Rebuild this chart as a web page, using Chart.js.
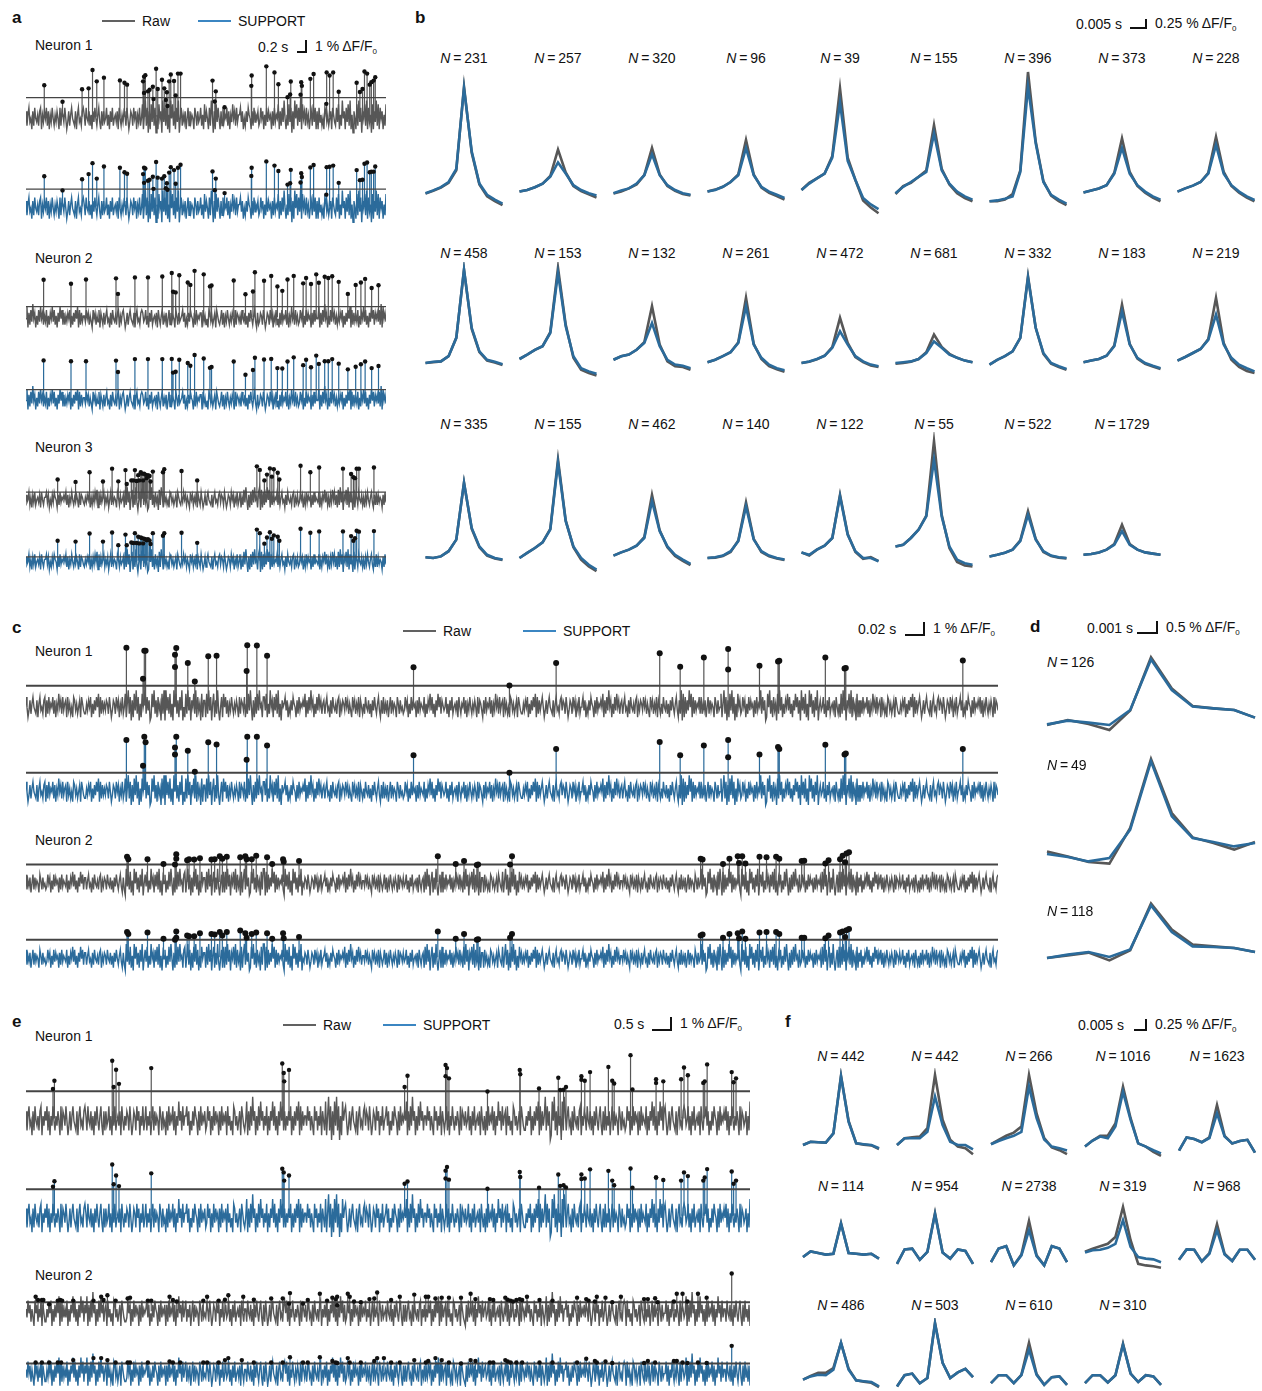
<!DOCTYPE html>
<html>
<head>
<meta charset="utf-8">
<script src="https://cdn.jsdelivr.net/npm/chart.js@4.4.1/dist/chart.umd.min.js"></script>
<style>
  body { margin: 0; background: #fff; }
  #fig { position: relative; width: 1262px; height: 1391px; overflow: hidden;
         font-family: "Liberation Sans", Arial, sans-serif; color: #111; }
  #fig canvas { position: absolute; }
  .t { position: absolute; white-space: nowrap; font-size: 14px; line-height: 16px; transform: translateY(-50%); }
  .t.c { transform: translate(-50%, -50%); }
  .pl { font-weight: bold; font-size: 17px; }
  .t sub { font-size: 8px; vertical-align: -3px; line-height: 0; }
  .leg { position: absolute; height: 2px; }
  .bar { position: absolute; border-right: 2px solid #111; border-bottom: 2px solid #111; box-sizing: border-box; }
</style>
</head>
<body>
<div id="fig"></div>
<script>
// ---- spike traces: frame of each detected spike and its peak (% dF/F0) ----
const aLen = 1104, cLen = 1520, eLen = 1503;

const aN1Frames = [56,112,172,192,204,217,239,288,302,310,359,362,366,362,374,379,389,391,399,404,417,424,429,434,432,439,444,454,459,466,474,572,582,579,609,692,691,737,762,774,812,802,810,844,846,842,872,882,922,921,931,942,959,1014,1024,1032,1038,1046,1054,1059,1066,1071];
const aN1Raw = [2.64,1.26,2.31,2.38,3.92,2.97,3.28,3.05,2.85,2.69,2.97,3.36,3.49,2.0,2.13,2.26,2.51,1.49,4.03,2.33,3.1,2.38,1.41,0.9,2.05,2.97,3.54,3.0,1.79,3.62,3.62,3.03,2.13,1.28,0.79,3.46,2.59,4.23,3.72,2.72,2.95,1.64,1.87,2.9,2.59,1.85,3.18,3.59,3.72,1.08,3.46,3.72,2.1,2.85,2.08,2.33,3.79,3.62,2.69,2.9,3.03,3.31];
const aN1Sup = [2.56,1.36,2.31,2.74,3.67,2.36,3.38,3.28,2.9,2.77,2.74,3.28,3.21,2.0,2.18,2.26,2.51,1.49,3.77,2.44,2.36,2.56,1.54,1.41,1.97,2.87,3.33,3.08,1.92,3.28,3.54,2.97,2.36,1.38,1.13,3.28,2.59,3.82,3.46,3.0,3.1,1.85,1.97,2.82,2.49,2.03,3.31,3.51,3.33,1.0,3.36,3.46,2.0,3.08,2.23,2.26,3.62,3.72,2.9,2.95,2.95,3.38];

const aN2Frames = [54,138,184,276,282,334,374,418,447,451,459,470,496,504,517,545,564,569,637,673,696,702,730,752,771,786,802,821,850,859,874,890,898,916,927,939,959,987,1011,1027,1040,1060,1081];
const aN2Raw = [3.21,2.87,3.23,3.33,2.0,3.41,3.41,3.49,3.79,2.18,2.13,3.59,2.97,2.77,3.97,3.67,2.64,2.72,3.15,1.97,2.21,3.85,3.13,3.54,2.64,2.26,3.23,3.54,2.9,3.36,2.85,3.67,2.95,3.46,3.36,3.51,3.03,2.0,2.77,2.97,3.28,2.51,2.74];
const aN2Sup = [3.33,3.26,3.26,3.31,2.33,3.44,3.44,3.44,3.46,2.28,2.36,3.38,3.1,2.87,3.79,3.49,2.69,2.77,3.23,2.1,2.51,3.56,3.41,3.46,2.67,2.64,3.23,3.59,2.92,3.38,2.74,3.74,3.03,3.26,3.26,3.44,3.05,2.56,2.79,3.0,3.23,2.67,2.85];

const aN3Frames = [97,152,195,236,264,283,305,309,323,329,334,339,344,347,352,356,359,362,366,370,374,379,382,389,420,424,477,525,708,717,731,739,748,754,760,772,777,842,872,899,972,997,1004,1009,1014,1021,1067];
const aN3Raw = [1.67,1.46,2.31,1.49,2.62,1.51,2.49,1.28,1.59,1.59,2.49,1.54,2.05,1.59,2.31,2.18,1.59,2.18,2.1,1.79,2.05,1.97,1.49,2.36,2.31,2.56,2.41,1.59,2.82,2.51,1.59,2.1,2.64,1.92,2.56,2.26,1.67,2.87,2.31,2.72,2.62,2.15,1.87,1.79,2.62,2.62,2.72];
const aN3Sup = [1.74,1.67,2.38,1.67,2.46,1.36,2.28,1.36,1.59,1.54,2.41,1.54,2.1,1.51,2.03,1.97,1.51,1.92,1.87,1.79,1.87,1.77,1.46,2.41,2.18,2.41,2.44,1.56,2.72,2.41,1.49,2.03,2.49,1.92,2.21,2.1,1.74,2.79,2.44,2.56,2.56,2.15,1.74,1.97,2.62,2.54,2.59];

const aThrRaw = [1.6, 0.92, 0.56];
const aThrSup = [1.46, 0.82, 0.33];

const cN1Frames = [157,185,187,183,235,233,233,253,264,285,298,346,345,361,377,606,756,829,991,1023,1060,1098,1098,1147,1176,1178,1250,1280,1282,1465];
const cN1Raw = [4.82,4.56,4.56,2.23,4.79,4.23,3.21,3.54,2.0,4.1,4.15,5.03,2.87,5.0,4.15,3.18,1.67,3.54,4.36,3.23,4.0,4.72,3.0,3.31,3.67,3.72,4.0,3.08,3.13,3.74];
const cN1Sup = [4.23,4.49,4.03,2.05,4.49,3.59,3.0,3.31,1.54,4.03,3.85,4.49,2.56,4.49,3.77,2.95,1.46,3.46,4.05,2.95,3.77,4.23,2.77,3.0,3.64,3.46,3.82,3.0,3.08,3.46];

const cN2Frames = [158,160,190,215,233,235,235,252,255,263,272,290,295,303,307,314,335,343,345,353,360,377,385,402,403,427,644,672,685,705,707,760,757,1055,1058,1090,1100,1113,1120,1115,1125,1147,1158,1173,1178,1213,1217,1250,1255,1273,1277,1283,1287,1281];
const cN2Raw = [2.23,2.0,2.0,1.59,1.54,2.44,2.05,1.92,2.0,1.97,2.1,1.97,2.0,2.26,2.05,2.23,2.18,2.26,2.0,2.0,2.31,2.18,1.59,2.0,1.79,1.85,2.26,1.59,1.85,1.49,1.54,2.26,1.54,2.05,1.97,1.59,2.05,2.26,2.26,1.67,1.62,2.23,2.18,2.23,2.05,1.85,1.87,1.62,1.92,2.0,2.31,2.51,2.62,1.74];
const cN2Sup = [2.23,2.05,2.18,1.62,1.54,2.26,1.72,1.92,1.85,1.85,2.1,2.05,2.0,2.23,1.92,2.23,2.36,2.1,1.72,2.05,2.18,2.1,1.62,2.1,1.67,1.79,2.26,1.62,2.05,1.54,1.59,2.05,1.72,1.92,2.0,1.72,2.05,2.1,2.26,1.67,1.62,2.18,2.23,2.23,2.05,1.72,1.72,1.67,1.92,2.18,2.26,2.38,2.49,1.79];

const cThrRaw = [1.64, 1.54];
const cThrSup = [1.46, 1.54];

const eN1Frames = [56,59,179,187,182,193,260,532,535,536,546,786,792,871,874,871,878,958,1025,1026,1065,1105,1109,1116,1121,1153,1153,1160,1171,1209,1217,1221,1255,1259,1308,1308,1323,1360,1366,1374,1406,1409,1414,1465,1469,1474];
const eN1Raw = [2.44,3.13,4.79,4.05,2.62,2.87,4.18,4.56,3.77,3.08,4.03,2.62,3.54,4.44,4.18,3.51,3.33,2.23,4.03,3.67,2.49,3.38,2.36,2.38,2.62,3.51,3.21,3.13,3.85,4.28,3.13,2.9,5.26,2.41,3.26,2.95,3.08,3.26,4.23,3.59,2.95,3.08,4.49,3.85,3.0,3.33];
const eN1Sup = [2.44,2.9,4.31,3.38,2.64,2.49,3.56,3.95,3.64,2.95,3.38,2.69,2.87,3.79,4.1,3.13,3.03,2.26,3.67,3.26,2.36,3.46,2.51,2.56,2.38,3.46,3.08,3.13,3.9,3.77,2.95,2.56,3.97,2.36,3.21,3.21,3.0,2.95,3.64,3.33,2.95,3.21,3.92,3.72,2.69,2.95];

const eN2RawFrames = [20,25,33,36,48,66,71,75,98,140,156,161,169,186,211,216,253,260,298,305,313,368,376,400,413,420,451,473,509,533,548,546,575,585,610,625,636,643,646,646,668,672,681,695,713,723,729,758,776,806,830,835,850,863,878,903,923,933,963,970,995,1000,1006,1011,1018,1025,1030,1040,1066,1093,1144,1163,1168,1181,1185,1203,1217,1235,1283,1291,1306,1311,1345,1351,1363,1373,1395,1413,1465];
const eN2Raw = [1.23,0.95,0.95,0.95,0.59,0.9,0.95,0.9,0.9,0.9,1.23,0.95,1.36,0.9,1.08,1.15,0.9,0.9,1.23,0.95,0.82,0.9,1.23,0.9,0.97,1.36,1.23,0.97,1.08,1.08,1.54,0.64,0.64,0.95,1.49,0.9,1.15,1.03,1.23,0.51,1.49,1.23,0.82,0.77,1.03,1.08,1.59,0.95,1.23,1.41,1.23,1.23,1.08,1.15,1.15,1.15,1.49,1.03,1.03,0.95,1.15,0.97,0.9,0.82,0.95,1.03,0.95,1.23,0.95,0.9,1.15,1.03,0.9,0.82,1.23,1.15,0.77,1.23,1.03,1.03,1.1,0.77,0.82,1.49,1.49,0.82,1.49,1.15,3.21];
const eN2SupFrames = [20,33,48,66,73,98,140,156,169,186,211,216,253,298,305,320,368,376,400,413,420,448,473,509,533,548,575,585,610,636,643,646,668,672,695,723,729,743,758,776,806,830,835,850,863,878,903,923,933,963,970,995,1000,1006,1018,1030,1066,1093,1144,1163,1181,1185,1203,1217,1283,1291,1306,1345,1351,1363,1373,1395,1413,1465];
const eN2Sup = [0.82,0.82,0.82,0.82,0.82,1.03,1.21,1.21,1.03,0.82,0.82,0.82,0.82,0.9,0.82,0.82,0.82,0.82,0.82,1.03,1.21,1.03,0.82,0.82,0.82,1.28,0.82,0.82,1.28,0.95,0.82,0.77,1.21,0.82,0.82,0.95,1.21,1.21,0.82,0.82,1.03,0.82,0.95,1.21,1.03,0.82,0.72,1.03,0.95,0.82,0.82,1.03,0.9,0.82,0.82,0.82,0.82,0.82,0.82,1.15,0.95,0.82,0.9,0.77,0.77,0.95,0.82,0.95,0.95,0.82,0.77,0.82,0.77,2.31];

const eThrRaw = [2.26, 0.77];
const eThrSup = [2.23, 0.72];

// baseline noise per neuron, one digit per sample (level 0-9 around the trace mean)
const aNoise = [
  ["62573416274352671536","47261537425364172653","74136257432615734267","52743625163742573162","63472516372453617425",
   "36527413652746153724","81592706183927051846","09372815094826173904","72536147263541752634","72518364172950618374",
   "16273547261538462735","57361426375416273546","23746152736451627354","81627394152837061948","27391846273514628371",
   "61735241763524617532","73815294617382915064","18293706482917350816","392817461528"].join(""),
  ["48162739461527384625","37152648372516384726","25364715263748172635","53746253174625371642","62573416274352671536",
   "74136257432615734267","63472516372453617425","72536147263541752634","57361426375416273546","61735241763524617532",
   "47261537425364172653","52743625163742573162","36527413652746153724","16273547261538462735","23746152736451627354",
   "48162739461527384625","25364715263748172635","37152648372516384726","46372918463"].join(""),
  ["63472516372453617425","57361426375416273546","47261537425364172653","25364715263748172635","72536147263541752634",
   "61829370581629304718","92736018492617350829","61735241763524617532","53746253174625371642","74136257432615734267",
   "36527413652746153724","71528394061728394517","90817263948172635472","62573416274352671536","23746152736451627354",
   "37152648372516384726","18293706482917350816","52743625163742573162","72635416273"].join("")
];
const aNoiseStep = [0.3, 0.25, 0.22];

const cNoise = [
  ["74136257432615734267","16273547261538462735","61735241763524617532","25364715263748172635","36527413652746153724",
   "81592706183927051846","92736018492617350829","09372815094826173904","18293706482917350816","61829370581629304718",
   "47261537425364172653","71528394061728394517","73815294617382915064","57361426375416273546","48162739461527384625",
   "62573416274352671536","53746253174625371642","52743625163742573162","72536147263541752634","23746152736451627354",
   "37152648372516384726","63472516372453617425","47261537425364172653","16273547261538462735","61735241763524617532",
   "25364715263748172635","74136257432615734267","36527413652746153724","57361426375416273546","48162739461527384625",
   "62573416274352671536","53746253174625371642","52743625163742573162","90817263948172635472","72536147263541752634",
   "81592706183927051846","23746152736451627354","92736018492617350829","37152648372516384726","09372815094826173904",
   "63472516372453617425","18293706482917350816","16273547261538462735","61735241763524617532","25364715263748172635",
   "74136257432615734267","36527413652746153724","57361426375416273546","47261537425364172653"].join(""),
  ["72536147263541752634","23746152736451627354","37152648372516384726","62573416274352671536","52743625163742573162",
   "09372815094826173904","73815294617382915064","71528394061728394517","81592706183927051846","61829370581629304718",
   "18293706482917350816","92736018492617350829","90817263948172635472","09372815094826173904","36527413652746153724",
   "57361426375416273546","48162739461527384625","53746253174625371642","47261537425364172653","63472516372453617425",
   "61829370581629304718","16273547261538462735","18293706482917350816","61735241763524617532","81592706183927051846",
   "25364715263748172635","74136257432615734267","36527413652746153724","57361426375416273546","48162739461527384625",
   "53746253174625371642","62573416274352671536","52743625163742573162","72536147263541752634","92736018492617350829",
   "90817263948172635472","09372815094826173904","73815294617382915064","71528394061728394517","23746152736451627354",
   "61829370581629304718","18293706482917350816","37152648372516384726","47261537425364172653","63472516372453617425",
   "16273547261538462735","61735241763524617532","25364715263748172635","74136257432615734267"].join("")
];
const cNoiseStep = [0.28, 0.26];

const eNoise = [
  ["62573416274352671536","47261537425364172653","74136257432615734267","52743625163742573162","63472516372453617425",
   "36527413652746153724","72536147263541752634","16273547261538462735","57361426375416273546","23746152736451627354",
   "61735241763524617532","48162739461527384625","37152648372516384726","25364715263748172635","53746253174625371642",
   "81592706183927051846","74136257432615734267","36527413652746153724","57361426375416273546","48162739461527384625",
   "53746253174625371642","47261537425364172653","63472516372453617425","16273547261538462735","61735241763524617532",
   "25364715263748172635","92736018492617350829","62573416274352671536","52743625163742573162","72536147263541752634",
   "23746152736451627354","37152648372516384726","74136257432615734267","63472516372453617425","57361426375416273546",
   "47261537425364172653","461528"].join(""),
  ["53746253174625371642","25364715263748172635","37152648372516384726","48162739461527384625","61735241763524617532",
   "23746152736451627354","57361426375416273546","16273547261538462735","72536147263541752634","36527413652746153724",
   "63472516372453617425","52743625163742573162","74136257432615734267","47261537425364172653","62573416274352671536",
   "37152648372516384726","23746152736451627354","72536147263541752634","52743625163742573162","62573416274352671536",
   "25364715263748172635","61735241763524617532","16273547261538462735","63472516372453617425","47261537425364172653",
   "53746253174625371642","48162739461527384625","57361426375416273546","36527413652746153724","74136257432615734267",
   "61735241763524617532","72536147263541752634","47261537425364172653","48162739461527384625","16273547261538462735",
   "52743625163742573162","735261"].join("")
];
const eNoiseStep = [0.4, 0.36];

// ---- spike-triggered averages (11 samples around the peak) ----
const lags = [-5, -4, -3, -2, -1, 0, 1, 2, 3, 4, 5];

const bCounts = [231, 257, 320, 96, 39, 155, 396, 373, 228, 458, 153, 132, 261, 472, 681, 332, 183, 219, 335, 155, 462, 140, 122, 55, 522, 1729];
const bRaw = [
  [0.31,0.38,0.46,0.58,0.89,2.98,1.33,0.54,0.24,0.12,0.02],
  [0.36,0.40,0.47,0.56,0.75,1.41,0.84,0.50,0.37,0.29,0.21],
  [0.31,0.36,0.44,0.54,0.77,1.45,0.79,0.50,0.38,0.30,0.26],
  [0.36,0.41,0.48,0.60,0.79,1.65,0.79,0.46,0.33,0.25,0.16],
  [0.40,0.58,0.69,0.81,1.25,2.94,1.21,0.65,0.14,-0.04,-0.18],
  [0.30,0.50,0.58,0.73,0.89,2.02,0.93,0.54,0.32,0.20,0.12],
  [0.12,0.12,0.16,0.30,0.89,3.35,1.61,0.62,0.26,0.12,0.02],
  [0.34,0.39,0.44,0.52,0.83,1.69,0.85,0.50,0.33,0.21,0.12],
  [0.36,0.44,0.51,0.60,0.83,1.73,0.85,0.50,0.33,0.21,0.12],
  [0,0.02,0.04,0.17,0.63,2.33,0.85,0.27,0.06,0.01,-0.05],
  [0.10,0.21,0.33,0.42,0.77,2.38,0.96,0.13,-0.17,-0.25,-0.31],
  [0.08,0.17,0.21,0.33,0.52,1.42,0.46,0.04,-0.08,-0.10,-0.17],
  [0.02,0.08,0.17,0.27,0.52,1.63,0.48,0.10,-0.08,-0.16,-0.22],
  [0,0.03,0.09,0.18,0.40,1.13,0.50,0.15,0.02,-0.06,-0.10],
  [-0.02,0,0.03,0.10,0.27,0.71,0.40,0.23,0.13,0.06,0.02],
  [-0.04,0.08,0.17,0.29,0.63,2.17,0.88,0.23,-0.02,-0.10,-0.17],
  [0.02,0.06,0.10,0.18,0.44,1.46,0.48,0.11,-0.02,-0.09,-0.15],
  [0.06,0.15,0.25,0.35,0.60,1.63,0.50,0.08,-0.10,-0.20,-0.25],
  [0.02,0,0.04,0.17,0.46,1.88,0.73,0.27,0.06,-0.01,-0.05],
  [0,0.13,0.25,0.39,0.73,2.46,0.94,0.27,-0.04,-0.21,-0.33],
  [0.06,0.14,0.21,0.31,0.52,1.58,0.69,0.27,0.05,-0.07,-0.18],
  [0,0.01,0.05,0.15,0.44,1.39,0.48,0.15,0.04,-0.01,-0.05],
  [0.14,0.06,0.21,0.31,0.50,1.58,0.60,0.15,-0.02,0.02,-0.08],
  [0.29,0.33,0.50,0.71,1.06,2.92,1.08,0.25,-0.10,-0.19,-0.21],
  [0.04,0.08,0.13,0.21,0.44,1.17,0.48,0.15,0.05,0.01,-0.01],
  [0.08,0.10,0.14,0.21,0.35,0.83,0.35,0.21,0.14,0.11,0.08]
];
const bSup = [
  [0.32,0.39,0.47,0.60,0.93,2.94,1.37,0.56,0.28,0.16,0.06],
  [0.36,0.40,0.47,0.56,0.73,1.09,0.81,0.52,0.40,0.32,0.26],
  [0.32,0.39,0.44,0.56,0.77,1.29,0.77,0.52,0.40,0.32,0.28],
  [0.36,0.40,0.48,0.60,0.77,1.45,0.77,0.48,0.36,0.28,0.20],
  [0.40,0.56,0.69,0.81,1.21,2.58,1.13,0.65,0.20,0.04,-0.08],
  [0.32,0.48,0.60,0.73,0.85,1.81,0.89,0.56,0.36,0.24,0.16],
  [0.12,0.14,0.18,0.24,0.85,2.98,1.57,0.60,0.28,0.16,0.06],
  [0.34,0.39,0.44,0.52,0.81,1.45,0.81,0.52,0.36,0.24,0.16],
  [0.36,0.44,0.51,0.60,0.81,1.53,0.81,0.52,0.36,0.24,0.15],
  [0,0.03,0.04,0.17,0.63,2.33,0.88,0.29,0.08,0.03,-0.03],
  [0.10,0.21,0.33,0.42,0.75,2.25,0.92,0.17,-0.13,-0.21,-0.27],
  [0.08,0.17,0.21,0.33,0.50,1.00,0.42,0.08,-0.04,-0.07,-0.13],
  [0.02,0.08,0.17,0.27,0.50,1.42,0.46,0.13,-0.04,-0.13,-0.18],
  [0,0.04,0.10,0.18,0.38,0.79,0.46,0.17,0.04,-0.04,-0.08],
  [0,0.02,0.04,0.10,0.25,0.54,0.38,0.21,0.13,0.06,0.02],
  [-0.04,0.08,0.17,0.29,0.63,2.13,0.88,0.25,0,-0.08,-0.15],
  [0.02,0.06,0.10,0.18,0.42,1.29,0.46,0.13,0,-0.07,-0.13],
  [0.06,0.15,0.25,0.35,0.58,1.21,0.46,0.13,-0.04,-0.13,-0.21],
  [0.02,0,0.04,0.17,0.46,1.88,0.75,0.29,0.08,0,-0.04],
  [0,0.13,0.25,0.39,0.71,2.38,0.92,0.29,0,-0.17,-0.29],
  [0.06,0.14,0.21,0.31,0.50,1.42,0.67,0.29,0.08,-0.04,-0.15],
  [0,0.02,0.06,0.17,0.42,1.29,0.46,0.17,0.06,0,-0.04],
  [0.14,0.08,0.21,0.31,0.50,1.54,0.58,0.17,0,0,-0.08],
  [0.29,0.33,0.50,0.71,1.04,2.46,1.04,0.29,-0.04,-0.13,-0.17],
  [0.04,0.08,0.13,0.21,0.42,1.08,0.46,0.17,0.06,0.02,0],
  [0.08,0.10,0.14,0.21,0.33,0.67,0.33,0.21,0.14,0.11,0.08]
];

const dCounts = [126, 49, 118];
const dRaw = [
  [0,0.25,0.05,-0.25,0.72,3.38,1.83,0.95,0.83,0.75,0.37],
  [0.33,0.08,-0.2,-0.28,1.5,4.95,2.25,1.03,0.75,0.42,0.8],
  [-0.05,0.08,0.22,-0.17,0.33,2.67,1.37,0.62,0.53,0.45,0.25]
];
const dSup = [
  [0.03,0.22,0.12,0,0.75,3.28,1.75,0.92,0.83,0.75,0.37],
  [0.2,0.05,-0.17,0,1.42,4.83,2.08,1.0,0.8,0.58,0.75],
  [-0.05,0.12,0.25,0,0.38,2.58,1.25,0.53,0.5,0.45,0.25]
];

const fCounts = [442, 442, 266, 1016, 1623, 114, 954, 2738, 319, 968, 486, 503, 610, 310];
const fRaw = [
  [0,0.08,0.07,0.06,0.29,1.73,0.60,0.04,0.01,-0.01,-0.1],
  [0,0.17,0.19,0.21,0.42,1.75,0.63,0.13,-0.04,-0.08,-0.23],
  [0.02,0.13,0.23,0.31,0.46,1.75,0.79,0.17,-0.06,-0.13,-0.23],
  [-0.04,0.11,0.23,0.23,0.54,1.46,0.67,0.04,-0.04,-0.17,-0.27],
  [-0.14,0.19,0.15,0.07,0.19,1.0,0.23,0.04,0.1,0.13,-0.19],
  [0,0.14,0.1,0.06,0.08,0.85,0.1,0.08,0.06,0.08,-0.04],
  [-0.17,0.19,0.21,-0.07,0.13,1.1,0.11,-0.04,0.19,0.15,-0.17],
  [-0.13,0.21,0.27,-0.21,0.06,0.9,0.04,-0.21,0.27,0.21,-0.13],
  [0.13,0.21,0.27,0.33,0.5,1.25,0.42,-0.17,-0.21,-0.23,-0.27],
  [-0.07,0.19,0.18,-0.11,0.1,0.82,0.08,-0.1,0.18,0.18,-0.07],
  [-0.04,0.05,0.13,0.13,0.25,0.88,0.23,-0.06,-0.09,-0.12,-0.23],
  [-0.21,0.07,0.11,-0.13,0,1.38,0.38,0,0.14,0.23,0.02],
  [-0.13,0.07,0.07,-0.13,0.08,0.88,0.1,-0.17,0.02,0.04,-0.17],
  [-0.13,0.07,0.07,-0.11,0.07,0.86,0.11,-0.1,0.07,0.04,-0.17]
];
const fSup = [
  [0,0.08,0.07,0.06,0.29,1.71,0.58,0.04,0.02,0,-0.08],
  [0,0.17,0.17,0.17,0.33,1.21,0.5,0.08,0,0,-0.11],
  [0.02,0.1,0.17,0.23,0.33,1.46,0.67,0.14,-0.04,-0.08,-0.14],
  [-0.04,0.11,0.21,0.17,0.46,1.33,0.63,0.04,-0.04,-0.13,-0.21],
  [-0.14,0.19,0.15,0.07,0.17,0.79,0.21,0.04,0.1,0.13,-0.19],
  [0,0.14,0.1,0.06,0.08,0.83,0.1,0.08,0.06,0.08,-0.04],
  [-0.17,0.19,0.21,-0.07,0.13,1.07,0.11,-0.04,0.19,0.15,-0.17],
  [-0.13,0.21,0.27,-0.21,0.04,0.67,0.02,-0.21,0.27,0.21,-0.13],
  [0.11,0.17,0.18,0.23,0.33,0.92,0.25,0,-0.04,-0.06,-0.13],
  [-0.07,0.19,0.18,-0.11,0.08,0.67,0.06,-0.1,0.18,0.18,-0.07],
  [-0.04,0.04,0.08,0.07,0.21,0.88,0.21,-0.06,-0.08,-0.1,-0.21],
  [-0.21,0.07,0.11,-0.13,0,1.36,0.38,0,0.14,0.23,0.02],
  [-0.13,0.07,0.07,-0.13,0.07,0.71,0.08,-0.17,0.02,0.04,-0.17],
  [-0.13,0.07,0.07,-0.11,0.07,0.83,0.11,-0.1,0.07,0.04,-0.17]
];

// ---- colours ----
const GRAY = "#575757";
const BLUE = "#2b6b9b";
const LEG_GRAY = "#616161";
const LEG_BLUE = "#3b86c2";
const PX_PER_PCT = 13;     // trace panels
const PX_PER_PCT_AVG = 40; // averaged waveforms in b and f

const fig = document.getElementById("fig");

function addText(x, y, html, cls) {
  const d = document.createElement("div");
  d.className = "t" + (cls ? " " + cls : "");
  d.style.left = x + "px";
  d.style.top = y + "px";
  d.innerHTML = html;
  fig.appendChild(d);
}

function addLegend(x, y, color, label) {
  const l = document.createElement("div");
  l.className = "leg";
  l.style.left = x + "px";
  l.style.top = (y - 1) + "px";
  l.style.width = "33px";
  l.style.background = color;
  fig.appendChild(l);
  addText(x + 40, y, label);
}

function addScaleBar(x, y, w, h, timeLabel, timeX, ampLabel) {
  addText(timeX, y + h / 2, timeLabel);
  const b = document.createElement("div");
  b.className = "bar";
  b.style.left = x + "px";
  b.style.top = y + "px";
  b.style.width = w + "px";
  b.style.height = h + "px";
  fig.appendChild(b);
  addText(x + w + 8, y + h / 2 - 1, ampLabel);
}

function addCanvas(x, y, w, h) {
  const c = document.createElement("canvas");
  c.width = w; c.height = h;
  c.style.left = x + "px"; c.style.top = y + "px";
  c.style.width = w + "px"; c.style.height = h + "px";
  fig.appendChild(c);
  return c;
}

function baseOptions(xmin, xmax, ymin, ymax) {
  return {
    responsive: false,
    animation: false,
    events: [],
    layout: { padding: 0 },
    plugins: { legend: { display: false }, tooltip: { enabled: false } },
    elements: { point: { radius: 0 }, line: { tension: 0 } },
    scales: {
      x: { type: "linear", min: xmin, max: xmax, display: false },
      y: { type: "linear", min: ymin, max: ymax, display: false }
    }
  };
}

function noisePoints(str, len, step) {
  const n = str.length;
  return Array.from(str, (ch, i) => ({ x: i * len / (n - 1), y: (Number(ch) - 4.5) * step }));
}

// one recording trace: noise, spike stems, detection threshold and peak dots
function drawTrace(x0, width, box, len, noise, step, frames, peaks, thr, color, dotR, thrW) {
  const cv = addCanvas(x0, box.top, width, box.bottom - box.top);
  const stems = [], dots = [];
  frames.forEach((f, i) => {
    stems.push({ x: f, y: 0 }, { x: f, y: peaks[i] }, { x: f, y: null });
    dots.push({ x: f, y: peaks[i] });
  });
  new Chart(cv, {
    type: "line",
    data: {
      datasets: [
        { data: dots, showLine: false, pointRadius: dotR, pointBackgroundColor: "#111", pointBorderWidth: 0 },
        { data: [{ x: 0, y: thr }, { x: len, y: thr }], borderColor: "#444", borderWidth: thrW },
        { data: stems, borderColor: color, borderWidth: 1.2, spanGaps: false },
        { data: noisePoints(noise, len, step), borderColor: color, borderWidth: 1.4 }
      ]
    },
    options: baseOptions(0, len, (box.zero - box.bottom) / PX_PER_PCT, (box.zero - box.top) / PX_PER_PCT)
  });
}

// averaged spike waveform, raw underneath SUPPORT
function drawAverage(x, top, w, h, zero, unitPx, pxPerPct, raw, sup) {
  const cv = addCanvas(x, top, w, h);
  const half = w / unitPx / 2;
  new Chart(cv, {
    type: "line",
    data: {
      datasets: [
        { data: lags.map((l, i) => ({ x: l, y: sup[i] })), borderColor: BLUE, borderWidth: 2.6 },
        { data: lags.map((l, i) => ({ x: l, y: raw[i] })), borderColor: GRAY, borderWidth: 2.6 }
      ]
    },
    options: baseOptions(-half, half, (zero - (top + h)) / pxPerPct, (zero - top) / pxPerPct)
  });
}

const dff = "ΔF/F<sub>0</sub>";
const nLabel = n => "<i>N</i>\u2009=\u2009" + n;

// ---------- a ----------
addText(12, 18, "a", "pl");
addLegend(102, 21, LEG_GRAY, "Raw");
addLegend(198, 21, LEG_BLUE, "SUPPORT");
addScaleBar(297, 40, 10, 13, "0.2 s", 258, "1 % " + dff);
addText(35, 45, "Neuron 1");
addText(35, 258, "Neuron 2");
addText(35, 447, "Neuron 3");

const aBoxes = [
  [{ zero: 118, top: 55, bottom: 150 }, { zero: 208, top: 148, bottom: 234 }],
  [{ zero: 319, top: 262, bottom: 342 }, { zero: 401, top: 345, bottom: 422 }],
  [{ zero: 500, top: 455, bottom: 522 }, { zero: 562, top: 518, bottom: 584 }]
];
const aSpikes = [[aN1Frames, aN1Raw, aN1Sup], [aN2Frames, aN2Raw, aN2Sup], [aN3Frames, aN3Raw, aN3Sup]];
aSpikes.forEach(([fr, raw, sup], k) => {
  drawTrace(22, 368, aBoxes[k][0], aLen, aNoise[k], aNoiseStep[k], fr, raw, aThrRaw[k], GRAY, 2.2, 1.2);
  drawTrace(22, 368, aBoxes[k][1], aLen, aNoise[k], aNoiseStep[k], fr, sup, aThrSup[k], BLUE, 2.2, 1.2);
});

// ---------- b ----------
addText(415, 18, "b", "pl");
addScaleBar(1130, 19, 17, 10, "0.005 s", 1076, "0.25 % " + dff);
const bRows = [
  { label: 58, zero: 206, top: 64, bottom: 216 },
  { label: 253, zero: 363, top: 262, bottom: 382 },
  { label: 424, zero: 558, top: 432, bottom: 576 }
];
bCounts.forEach((n, i) => {
  const row = bRows[Math.floor(i / 9)], col = i % 9;
  const cx = 464 + 94 * col;
  addText(cx, row.label, nLabel(n), "c");
  drawAverage(cx - 42, row.top, 84, row.bottom - row.top, row.zero, 7.7, PX_PER_PCT_AVG, bRaw[i], bSup[i]);
});

// ---------- c ----------
addText(12, 628, "c", "pl");
addLegend(403, 631, LEG_GRAY, "Raw");
addLegend(523, 631, LEG_BLUE, "SUPPORT");
addScaleBar(905, 622, 20, 14, "0.02 s", 858, "1 % " + dff);
addText(35, 651, "Neuron 1");
addText(35, 840, "Neuron 2");
const cBoxes = [
  [{ zero: 707, top: 636, bottom: 738 }, { zero: 792, top: 725, bottom: 816 }],
  [{ zero: 883, top: 843, bottom: 908 }, { zero: 958, top: 920, bottom: 984 }]
];
const cSpikes = [[cN1Frames, cN1Raw, cN1Sup], [cN2Frames, cN2Raw, cN2Sup]];
cSpikes.forEach(([fr, raw, sup], k) => {
  drawTrace(22, 980, cBoxes[k][0], cLen, cNoise[k], cNoiseStep[k], fr, raw, cThrRaw[k], GRAY, 3, 2);
  drawTrace(22, 980, cBoxes[k][1], cLen, cNoise[k], cNoiseStep[k], fr, sup, cThrSup[k], BLUE, 3, 2);
});

// ---------- d ----------
addText(1030, 627, "d", "pl");
addScaleBar(1137, 621, 21, 13, "0.001 s", 1087, "0.5 % " + dff);
const dRows = [
  { label: 662, zero: 725, top: 652, bottom: 742 },
  { label: 765, zero: 858, top: 752, bottom: 876 },
  { label: 911, zero: 957, top: 897, bottom: 974 }
];
dCounts.forEach((n, i) => {
  const r = dRows[i];
  addText(1047, r.label, nLabel(n));
  drawAverage(1040, r.top, 222, r.bottom - r.top, r.zero, 20.8, 20, dRaw[i], dSup[i]);
});

// ---------- e ----------
addText(12, 1022, "e", "pl");
addLegend(283, 1025, LEG_GRAY, "Raw");
addLegend(383, 1025, LEG_BLUE, "SUPPORT");
addScaleBar(652, 1017, 20, 14, "0.5 s", 614, "1 % " + dff);
addText(35, 1036, "Neuron 1");
addText(35, 1275, "Neuron 2");
const eBoxes = [
  [{ zero: 1120, top: 1045, bottom: 1152 }, { zero: 1217, top: 1155, bottom: 1248 }],
  [{ zero: 1312, top: 1262, bottom: 1345 }, { zero: 1373, top: 1335, bottom: 1391 }]
];
drawTrace(22, 732, eBoxes[0][0], eLen, eNoise[0], eNoiseStep[0], eN1Frames, eN1Raw, eThrRaw[0], GRAY, 2.2, 2);
drawTrace(22, 732, eBoxes[0][1], eLen, eNoise[0], eNoiseStep[0], eN1Frames, eN1Sup, eThrSup[0], BLUE, 2.2, 2);
drawTrace(22, 732, eBoxes[1][0], eLen, eNoise[1], eNoiseStep[1], eN2RawFrames, eN2Raw, eThrRaw[1], GRAY, 2.2, 2);
drawTrace(22, 732, eBoxes[1][1], eLen, eNoise[1], eNoiseStep[1], eN2SupFrames, eN2Sup, eThrSup[1], BLUE, 2.2, 2);

// ---------- f ----------
addText(785, 1022, "f", "pl");
addScaleBar(1134, 1019, 13, 12, "0.005 s", 1078, "0.25 % " + dff);
const fRows = [
  { label: 1056, zero: 1145, top: 1068, bottom: 1162 },
  { label: 1186, zero: 1257, top: 1198, bottom: 1276 },
  { label: 1305, zero: 1378, top: 1318, bottom: 1391 }
];
fCounts.forEach((n, i) => {
  const row = fRows[Math.floor(i / 5)], col = i % 5;
  const cx = 841 + 94 * col;
  addText(cx, row.label, nLabel(n), "c");
  drawAverage(cx - 42, row.top, 84, row.bottom - row.top, row.zero, 7.6, PX_PER_PCT_AVG, fRaw[i], fSup[i]);
});
</script>
</body>
</html>
